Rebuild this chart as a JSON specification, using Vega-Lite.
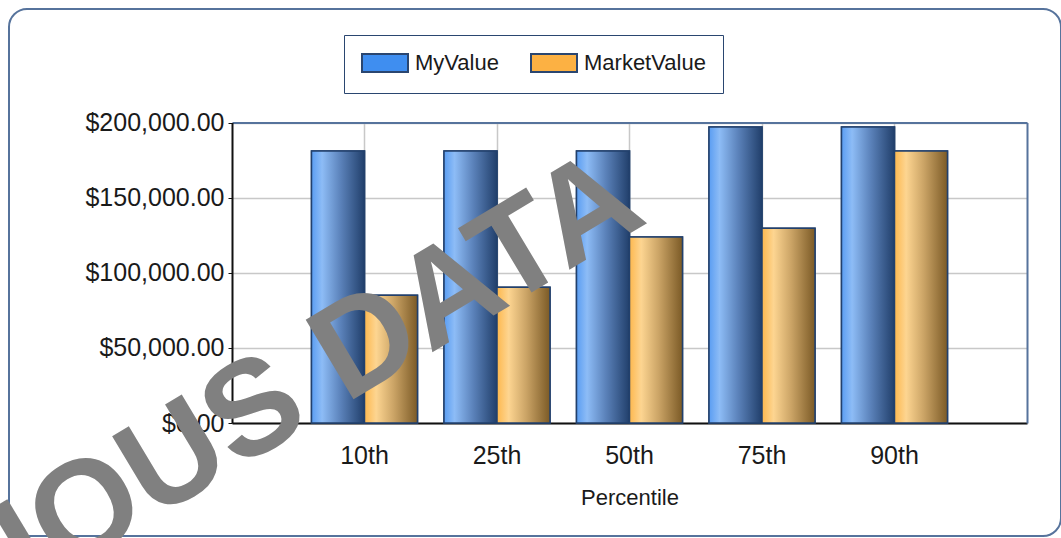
{
  "$schema": "https://vega.github.io/schema/vega-lite/v6.json",
  "width": 1052,
  "height": 527,
  "autosize": {"type": "none"},
  "padding": {"left": 9, "top": 9, "right": 0, "bottom": 2},
  "background": "white",
  "config": {
    "view": {"fill": "white", "stroke": "#56739c", "strokeWidth": 2, "cornerRadius": 18},
    "font": "Liberation Sans",
    "axis": {"labelFont": "Liberation Sans", "titleFont": "Liberation Sans", "labelColor": "#1a1a1a", "titleColor": "#1a1a1a"},
    "legend": {"labelFont": "Liberation Sans", "labelColor": "#1a1a1a"}
  },
  "data": {
    "values": [
      {"pct": "10th", "series": "MyValue", "value": 181000},
      {"pct": "10th", "series": "MarketValue", "value": 85000},
      {"pct": "25th", "series": "MyValue", "value": 181000},
      {"pct": "25th", "series": "MarketValue", "value": 90300},
      {"pct": "50th", "series": "MyValue", "value": 181000},
      {"pct": "50th", "series": "MarketValue", "value": 123800},
      {"pct": "75th", "series": "MyValue", "value": 197000},
      {"pct": "75th", "series": "MarketValue", "value": 129600},
      {"pct": "90th", "series": "MyValue", "value": 197000},
      {"pct": "90th", "series": "MarketValue", "value": 181000}
    ]
  },
  "layer": [
    {
      "mark": {"type": "bar", "stroke": "#22406c", "strokeWidth": 1.5},
      "encoding": {
        "x": {
          "field": "pct", "type": "nominal",
          "scale": {"domain": ["10th", "25th", "50th", "75th", "90th"], "range": [223, 1018], "paddingInner": 0, "paddingOuter": 0.5},
          "axis": {"orient": "bottom", "offset": -113, "title": "Percentile", "labelAngle": 0, "labelFontSize": 25, "labelPadding": 20, "ticks": false, "grid": true, "gridColor": "#c8c8c8", "gridWidth": 1.5, "bandPosition": 0.5, "domainColor": "#111111", "domainWidth": 2, "titleFontSize": 22, "titleFontWeight": "normal", "titlePadding": 19}
        },
        "xOffset": {
          "field": "series", "type": "nominal",
          "scale": {"domain": ["MyValue", "MarketValue"], "paddingInner": 0, "paddingOuter": 0.25}
        },
        "y": {
          "field": "value", "type": "quantitative",
          "scale": {"domain": [0, 200000], "range": [414, 113.5], "nice": false, "zero": true},
          "axis": {"orient": "left", "offset": -223, "title": null, "values": [0, 50000, 100000, 150000, 200000], "format": "$,.2f", "labelFontSize": 25, "labelPadding": 4, "tickSize": 4, "tickColor": "#111111", "domainColor": "#111111", "domainWidth": 2, "grid": true, "gridColor": "#c8c8c8", "gridWidth": 1.5}
        },
        "color": {
          "field": "series", "type": "nominal",
          "scale": {"domain": ["MyValue", "MarketValue"], "range": ["#3f8ef0", "#fcb143"]},
          "legend": {
            "orient": "none", "legendX": 335, "legendY": 26, "direction": "horizontal", "title": null,
            "symbolType": "M-2.3,-0.9H2.3V0.9H-2.3Z", "symbolSize": 400, "symbolOffset": 13, "labelOffset": 19,
            "symbolStrokeColor": "#2a4670", "symbolStrokeWidth": 2, "symbolOpacity": 1,
            "labelFontSize": 22, "columnPadding": 28, "padding": 17,
            "strokeColor": "#2a4670", "fillColor": "white"
          }
        }
      }
    },
    {
      "mark": {"type": "bar", "stroke": "#22406c", "strokeWidth": 1.5},
      "encoding": {
        "x": {"field": "pct", "type": "nominal", "axis": {"orient": "top", "offset": -113.5, "labels": false, "ticks": false, "grid": false, "title": null, "domainColor": "#56739c", "domainWidth": 2}},
        "xOffset": {"field": "series", "type": "nominal"},
        "y": {"field": "value", "type": "quantitative", "axis": {"orient": "right", "offset": -34, "labels": false, "ticks": false, "grid": false, "title": null, "domainColor": "#56739c", "domainWidth": 2}},
        "fill": {
          "condition": {
            "test": "datum.series === 'MyValue'",
            "value": {"gradient": "linear", "x1": 0, "y1": 0, "x2": 1, "y2": 0, "stops": [
              {"offset": 0, "color": "#5a9df2"},
              {"offset": 0.2, "color": "#8dbcf6"},
              {"offset": 0.55, "color": "#5b82ba"},
              {"offset": 1, "color": "#213f6b"}
            ]}
          },
          "value": {"gradient": "linear", "x1": 0, "y1": 0, "x2": 1, "y2": 0, "stops": [
            {"offset": 0, "color": "#fdb84e"},
            {"offset": 0.22, "color": "#fdd591"},
            {"offset": 0.55, "color": "#cba466"},
            {"offset": 1, "color": "#7b5a26"}
          ]}
        }
      }
    },
    {
      "data": {"values": [{"note": "IOUS DATA"}]},
      "mark": {"type": "text", "font": "Liberation Sans", "fontWeight": "bold", "fontSize": 135, "angle": 329, "align": "right", "baseline": "alphabetic", "dx": 24, "color": "#808080"},
      "encoding": {
        "text": {"field": "note"},
        "x": {"datum": "50th", "type": "nominal", "axis": null},
        "y": {"datum": 126000, "type": "quantitative", "axis": null}
      }
    }
  ]
}
